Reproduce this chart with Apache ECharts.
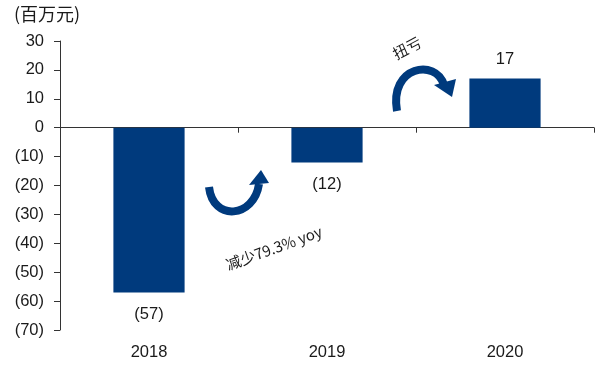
<!DOCTYPE html>
<html><head><meta charset="utf-8">
<script src="https://cdn.jsdelivr.net/npm/echarts@6/dist/echarts.min.js"></script>
<style>html,body{margin:0;padding:0;background:#fff}#c{width:600px;height:368px}</style>
</head><body><div id="c"></div>
<script>
const categories = ['2018', '2019', '2020'];
const netProfit = [-57, -12, 17];
const unitLabel = '(百万元)';
const noteTurn = '扭亏';
const noteDecline = '减少79.3% yoy';

const BAR = '#003A7D';
const TXT = '#1a1a1a';
const FONT = 'Liberation Sans, Arial';
const fmt = v => v < 0 ? '(' + (-v) + ')' : String(v);

const chart = echarts.init(document.getElementById('c'), null, {renderer: 'canvas'});
chart.setOption({
  animation: false,
  grid: {left: 60, right: 6, top: 41, bottom: 38},
  xAxis: [{
    type: 'category', data: categories,
    axisLine: {onZero: true, lineStyle: {color: '#333', width: 1}},
    axisTick: {show: true, length: 5, lineStyle: {color: '#333'}},
    axisLabel: {show: false}
  }, {
    type: 'category', data: categories, position: 'bottom',
    axisLine: {show: false, onZero: false}, axisTick: {show: false},
    axisLabel: {color: TXT, fontSize: 16.5, fontFamily: FONT, margin: 14}
  }],
  yAxis: {
    type: 'value', min: -70, max: 30, interval: 10,
    splitLine: {show: false},
    axisLine: {show: true, lineStyle: {color: '#333', width: 1}},
    axisTick: {show: true, length: 6, lineStyle: {color: '#333'}},
    axisLabel: {formatter: fmt, color: TXT, fontSize: 16.5, fontFamily: FONT, margin: 16}
  },
  series: [{
    type: 'bar', xAxisIndex: 0, barWidth: '40%',
    itemStyle: {color: BAR},
    data: netProfit.map(v => ({
      value: v,
      label: {show: true, position: v < 0 ? 'bottom' : 'top', distance: v < 0 ? 14 : 11,
        formatter: p => fmt(p.value), color: TXT, fontSize: 16.5, fontFamily: FONT}
    }))
  }],
  graphic: [
    {type: 'text', left: 14, top: 5, style: {text: unitLabel, fontSize: 18, fill: TXT, fontFamily: 'Noto Sans CJK SC'}},
    {type: 'bezierCurve', shape: {x1: 209, y1: 187, cpx1: 213, cpy1: 222, cpx2: 254, cpy2: 218, x2: 259, y2: 184},
      style: {stroke: BAR, lineWidth: 8, fill: null}},
    {type: 'polygon', shape: {points: [[249, 185], [269, 183], [261, 170]]}, style: {fill: BAR}},
    {type: 'bezierCurve', shape: {x1: 397, y1: 111, cpx1: 389, cpy1: 66, cpx2: 436, cpy2: 58, x2: 444, y2: 85},
      style: {stroke: BAR, lineWidth: 8, fill: null}},
    {type: 'polygon', shape: {points: [[434, 85], [456, 79], [452, 97]]}, style: {fill: BAR}},
    {type: 'text', x: 407, y: 48, rotation: 28 * Math.PI / 180,
      style: {text: noteTurn, fontSize: 15, fill: TXT, fontFamily: 'Noto Sans CJK SC', align: 'center', verticalAlign: 'middle'}},
    {type: 'text', x: 274, y: 248, rotation: 20 * Math.PI / 180,
      style: {text: noteDecline, fontSize: 15, fill: TXT, fontFamily: 'Noto Sans CJK SC', align: 'center', verticalAlign: 'middle'}}
  ]
});
</script></body></html>
